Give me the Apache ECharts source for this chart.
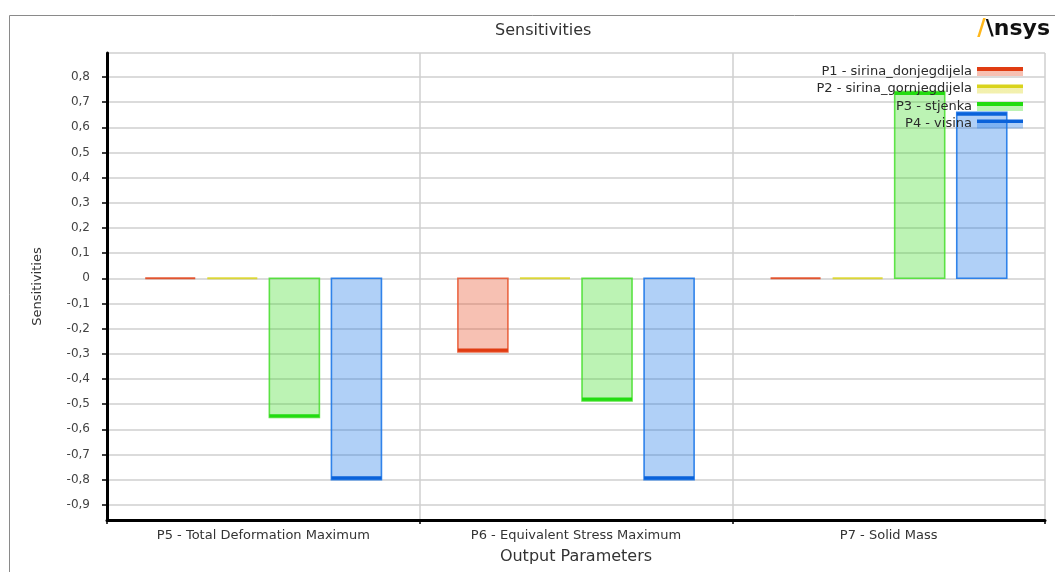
<!DOCTYPE html>
<html>
<head>
<meta charset="utf-8">
<script src="https://cdn.jsdelivr.net/npm/echarts@6/dist/echarts.min.js"></script>
<style>
html,body{margin:0;padding:0;background:#fff;}
#chart{width:1055px;height:572px;}
</style>
</head>
<body>
<div id="chart"></div>
<script>
// ---- data ----
const categories = ['P5 - Total Deformation Maximum', 'P6 - Equivalent Stress Maximum', 'P7 - Solid Mass'];
const seriesNames = ['P1 - sirina_donjegdijela', 'P2 - sirina_gornjegdijela', 'P3 - stjenka', 'P4 - visina'];
const p1Values = [0, -0.292, 0];
const p2Values = [0, 0, 0];
const p3Values = [-0.553, -0.487, 0.742];
const p4Values = [-0.800, -0.800, 0.659];
const allValues = [p1Values, p2Values, p3Values, p4Values];

// ---- styles ----
const palette = [
  {fill: 'rgba(232,82,44,0.36)', border: 'rgba(232,82,44,0.85)', end: '#e03c12'},
  {fill: 'rgba(221,214,30,0.36)', border: 'rgba(221,214,30,0.9)', end: '#d9d31c'},
  {fill: 'rgba(60,220,35,0.34)', border: 'rgba(70,222,45,0.85)', end: '#22dc10'},
  {fill: 'rgba(30,120,232,0.35)', border: 'rgba(30,120,232,0.9)', end: '#0a62da'}
];
const FONT = 'DejaVu Sans';

function fmt(v) {
  if (Math.abs(v) < 1e-9) return '0';
  return (Math.round(v * 10) / 10).toString().replace('.', ',');
}

function makeRender(si) {
  return function (params, api) {
    const c = api.value(0), v = api.value(1);
    const catW = api.size([1, 0])[0];
    const bw = catW * 0.16, gap = catW * 0.0385;
    const groupW = 4 * bw + 3 * gap;
    const p0 = api.coord([c, 0]);
    const p1 = api.coord([c, v]);
    const x = p0[0] - groupW / 2 + si * (bw + gap);
    const yTop = Math.min(p0[1], p1[1]);
    const h = Math.abs(p1[1] - p0[1]);
    const col = palette[si];
    const children = [];
    if (h > 1) {
      children.push({
        type: 'rect',
        shape: {x: x, y: yTop, width: bw, height: h},
        style: {fill: col.fill, stroke: col.border, lineWidth: 1.6}
      });
      const ey = v < 0 ? p1[1] - 1.8 : p1[1] + 1.8;
      children.push({
        type: 'line',
        shape: {x1: x, y1: ey, x2: x + bw, y2: ey},
        style: {stroke: col.end, lineWidth: 3.2}
      });
    } else {
      children.push({
        type: 'line',
        shape: {x1: x, y1: p0[1], x2: x + bw, y2: p0[1]},
        style: {stroke: col.end, lineWidth: 2, opacity: 0.85}
      });
    }
    return {type: 'group', children: children};
  };
}

const series = seriesNames.map((name, si) => ({
  name: name,
  type: 'custom',
  renderItem: makeRender(si),
  encode: {x: 0, y: 1},
  itemStyle: {color: palette[si].end},
  data: categories.map((c, i) => [i, allValues[si][i]]),
  silent: true,
  z: 3
}));

const legendData = seriesNames.map((name, si) => ({
  name: name,
  itemStyle: {
    color: {
      type: 'linear', x: 0, y: 0, x2: 0, y2: 1,
      colorStops: [
        {offset: 0, color: palette[si].end},
        {offset: 0.42, color: palette[si].end},
        {offset: 0.42, color: palette[si].fill},
        {offset: 1, color: palette[si].fill}
      ]
    }
  }
}));

const chart = echarts.init(document.getElementById('chart'), null, {renderer: 'canvas'});
chart.setOption({
  animation: false,
  backgroundColor: '#fff',
  title: [
    {text: 'Sensitivities', left: 490, top: 18,
      textStyle: {fontFamily: FONT, fontSize: 16, fontWeight: 'normal', color: '#333'}},
    {text: '{y|/}{k|\\nsys}', right: 0, top: 13,
      textStyle: {rich: {
        y: {fontFamily: FONT, fontSize: 23, fontWeight: 'bold', color: '#ffb71b'},
        k: {fontFamily: FONT, fontSize: 22, fontWeight: 'bold', color: '#111'}
      }}}
  ],
  graphic: [
    {type: 'rect', shape: {x: 9.5, y: 15.5, width: 1100, height: 600},
      style: {fill: 'none', stroke: '#8a8a8a', lineWidth: 1}, silent: true, z: -10}
  ],
  legend: {
    orient: 'vertical',
    align: 'right',
    right: 27,
    top: 60,
    itemGap: 4.5,
    itemWidth: 46,
    itemHeight: 9,
    icon: 'rect',
    selectedMode: false,
    textStyle: {fontFamily: FONT, fontSize: 13, color: '#2a2a2a'},
    data: legendData
  },
  grid: {left: 107, right: 10, top: 53, bottom: 52, containLabel: false, outerBoundsMode: 'none'},
  xAxis: {
    type: 'category',
    data: categories,
    name: 'Output Parameters',
    nameLocation: 'middle',
    nameGap: 29,
    nameTextStyle: {fontFamily: FONT, fontSize: 16, color: '#333'},
    axisLine: {show: true, onZero: false, lineStyle: {color: '#000', width: 3}},
    axisTick: {show: true, length: 4, lineStyle: {color: '#000', width: 1.5}},
    axisLabel: {fontFamily: FONT, fontSize: 13, color: '#333', margin: 9},
    splitLine: {show: true, lineStyle: {color: '#cfcfcf', width: 1.5}}
  },
  yAxis: {
    type: 'value',
    min: -0.96,
    max: 0.895,
    splitNumber: 19,
    name: 'Sensitivities',
    nameLocation: 'middle',
    nameGap: 63,
    nameTextStyle: {fontFamily: FONT, fontSize: 13, color: '#333'},
    axisLine: {show: true, lineStyle: {color: '#000', width: 3}},
    axisTick: {show: true, length: 5, lineStyle: {color: '#000', width: 1.5}},
    axisLabel: {fontFamily: FONT, fontSize: 12, color: '#444', margin: 17,
      showMinLabel: false, showMaxLabel: false, formatter: fmt},
    splitLine: {show: true, lineStyle: {color: '#cfcfcf', width: 1.5}}
  },
  series: series
});
</script>
</body>
</html>
